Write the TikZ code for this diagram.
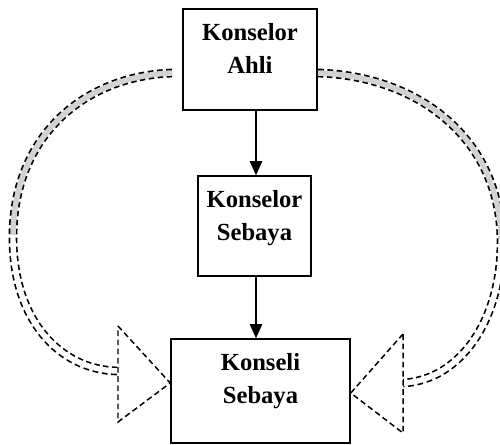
\documentclass[tikz,border=0pt]{standalone}
\usepackage{fontspec}
\setmainfont{Liberation Serif}
\usetikzlibrary{arrows.meta,calc}
\begin{document}
\begin{tikzpicture}[x=0.02cm,y=-0.02cm,
  box/.style={draw, line width=0.9pt, inner sep=0pt},
  lbl/.style={font=\fontsize{14}{17}\selectfont\bfseries, inner sep=0pt, anchor=base},
  arr/.style={line width=0.9pt, -{Triangle[length=8pt,width=7pt]}},
  dpat/.style={dash pattern=on 3.2pt off 2pt},
  shaftout/.style={dpat, line width=5pt},
  shaftin/.style={line width=3.1pt},
  headtri/.style={dpat, line width=0.85pt, fill=white},
  ]
\useasboundingbox (0,0) rectangle (500,444);
% boxes
\node[box, minimum width=2.68cm, minimum height=2.02cm] (b1) at (250,59.5) {};
\node[box, minimum width=2.26cm, minimum height=2.0cm] (b2) at (254.5,226) {};
\node[box, minimum width=3.58cm, minimum height=2.08cm] (b3) at (260.5,391) {};
% labels
\node[lbl] (t1a) at (250,40) {Konselor};
\node[lbl] (t1b) at (250,73) {Ahli};
\node[lbl] (t2a) at (254.5,207) {Konselor};
\node[lbl] (t2b) at (254.5,240) {Sebaya};
\node[lbl] (t3a) at (260.5,370) {Konseli};
\node[lbl] (t3b) at (260.5,403) {Sebaya};
% straight arrows
\draw[arr] ($(b1.south)+(6,0)$) -- ($(b2.north)+(1.5,0)$);
\draw[arr] ($(b2.south)+(1.5,0)$) -- ($(b3.north)+(-4.5,0)$);
% left curved arrow
\coordinate (ls) at (172,73);
\coordinate (lm) at (13,235);
\coordinate (le) at (118,371);
\draw[shaftout] (ls) .. controls (85,76) and (14,135) .. (lm) .. controls (12,320) and (60,370) .. (le);
\draw[shaftin, gray!35] (ls) .. controls (85,76) and (14,135) .. (lm);
\draw[shaftin, white] (lm) .. controls (12,320) and (60,370) .. (le);
\draw[headtri] (118,326) -- (b3.west |- 0,383) -- (118,422) -- cycle;
% right curved arrow
\coordinate (rs) at (318,73);
\coordinate (rm) at (501,240);
\coordinate (re) at (403,383);
\draw[shaftout] (rs) .. controls (420,76) and (500,140) .. (rm) .. controls (502,320) and (460,380) .. (re);
\draw[shaftin, gray!35] (rs) .. controls (420,76) and (500,140) .. (rm);
\draw[shaftin, white] (rm) .. controls (502,320) and (460,380) .. (re);
\draw[headtri] (403,334) -- (b3.east |- 0,393) -- (403,433) -- cycle;
\end{tikzpicture}
\end{document}
